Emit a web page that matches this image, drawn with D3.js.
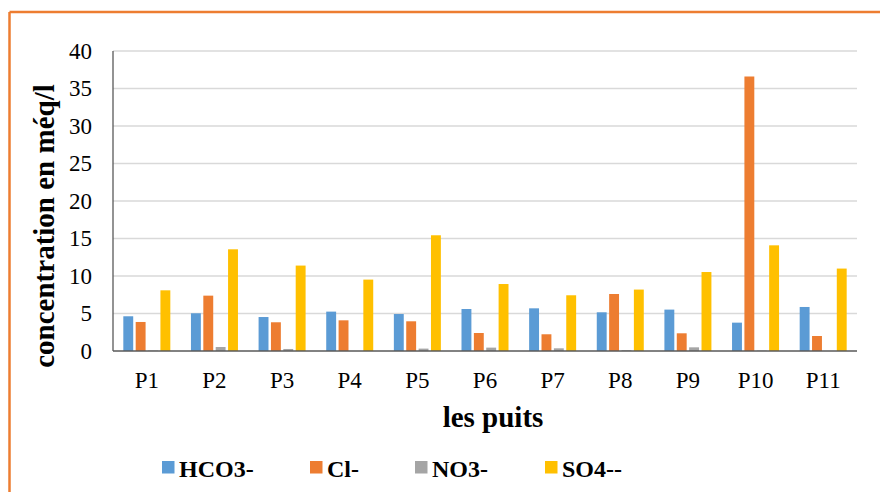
<!DOCTYPE html>
<html>
<head>
<meta charset="utf-8">
<script src="https://cdn.jsdelivr.net/npm/d3@7"></script>
<style>
  html, body { margin: 0; padding: 0; background: #fff; }
  svg { display: block; }
  text { font-family: "Liberation Serif", "Times New Roman", serif; fill: #000; }
</style>
</head>
<body>
<svg id="chart" width="880" height="492"></svg>
<script>
// ---- data ----
const categories = ["P1","P2","P3","P4","P5","P6","P7","P8","P9","P10","P11"];
const seriesNames = ["HCO3-","Cl-","NO3-","SO4--"];
const hco3 = [4.63, 5.03, 4.53, 5.25, 4.93, 5.60, 5.69, 5.16, 5.52, 3.78, 5.87];
const cl   = [3.87, 7.38, 3.83, 4.09, 3.96, 2.40, 2.23, 7.60, 2.36, 36.6, 2.00];
const no3  = [0.05, 0.53, 0.27, 0.00, 0.32, 0.45, 0.36, 0.10, 0.49, 0.05, 0.00];
const so4  = [8.09, 13.56, 11.39, 9.52, 15.43, 8.93, 7.43, 8.19, 10.53, 14.09, 10.99];
const yTicks = [0, 5, 10, 15, 20, 25, 30, 35, 40];
const colors = ["#5B9BD5", "#ED7D31", "#A5A5A5", "#FFC000"];
const yTitle = "concentration en méq/l";
const xTitle = "les puits";

const seriesValues = [hco3, cl, no3, so4];

// ---- layout ----
const svg = d3.select("#chart");
const plot = { left: 113, right: 857, top: 51, bottom: 351 };

// border (orange, top and left edges visible)
svg.append("line").attr("x1", 9.5).attr("x2", 880).attr("y1", 12).attr("y2", 12)
  .attr("stroke", "#ED7D31").attr("stroke-width", 2.5);
svg.append("line").attr("x1", 9.5).attr("x2", 9.5).attr("y1", 12).attr("y2", 492)
  .attr("stroke", "#ED7D31").attr("stroke-width", 2.5);

const x0 = d3.scaleBand().domain(categories).range([plot.left, plot.right])
  .paddingInner(0.305).paddingOuter(0.1525);
const x1 = d3.scaleBand().domain(seriesNames).range([0, x0.bandwidth()])
  .paddingInner(0.2).paddingOuter(0);
const y = d3.scaleLinear().domain([0, 40]).range([plot.bottom, plot.top]);

// gridlines
svg.append("g").selectAll("line").data(yTicks.filter(d => d > 0)).join("line")
  .attr("x1", plot.left).attr("x2", plot.right)
  .attr("y1", d => y(d)).attr("y2", d => y(d))
  .attr("stroke", "#d9d9d9").attr("stroke-width", 1.3);

// y tick labels
svg.append("g").selectAll("text").data(yTicks).join("text")
  .attr("x", 92).attr("y", d => y(d))
  .attr("text-anchor", "end").attr("dominant-baseline", "central")
  .style("font-size", "23px")
  .text(d => d);

// bars
const groups = svg.append("g").selectAll("g").data(categories).join("g")
  .attr("transform", d => `translate(${x0(d)},0)`);
groups.selectAll("rect")
  .data((c, i) => seriesNames.map((s, k) => ({ s, k, v: seriesValues[k][i] })))
  .join("rect")
  .attr("x", d => x1(d.s))
  .attr("width", x1.bandwidth())
  .attr("y", d => y(d.v))
  .attr("height", d => y(0) - y(d.v))
  .attr("fill", d => colors[d.k]);

// axes lines
svg.append("line").attr("x1", plot.left).attr("x2", plot.left)
  .attr("y1", plot.top).attr("y2", plot.bottom)
  .attr("stroke", "#595959").attr("stroke-width", 1.3);
svg.append("line").attr("x1", plot.left).attr("x2", plot.right)
  .attr("y1", plot.bottom).attr("y2", plot.bottom)
  .attr("stroke", "#595959").attr("stroke-width", 1.3);

// x tick labels
svg.append("g").selectAll("text").data(categories).join("text")
  .attr("x", d => x0(d) + x0.bandwidth() / 2).attr("y", 388)
  .attr("text-anchor", "middle")
  .style("font-size", "23px")
  .text(d => d);

// axis titles
svg.append("text").attr("x", 493).attr("y", 427)
  .attr("text-anchor", "middle").style("font-size", "29px").style("font-weight", "bold")
  .text(xTitle);
svg.append("text").attr("transform", "translate(54,226) rotate(-90)")
  .attr("text-anchor", "middle").style("font-size", "29px").style("font-weight", "bold")
  .text(yTitle);

// legend
const legendX = [162, 310, 415, 545];
const legend = svg.append("g").selectAll("g").data(seriesNames).join("g")
  .attr("transform", (d, i) => `translate(${legendX[i]},0)`);
legend.append("rect").attr("x", 0).attr("y", 461).attr("width", 12.5).attr("height", 12.5)
  .attr("fill", (d, i) => colors[i]);
legend.append("text").attr("x", 17).attr("y", 477)
  .style("font-size", "24px").style("font-weight", "bold")
  .text(d => d);
</script>
</body>
</html>
